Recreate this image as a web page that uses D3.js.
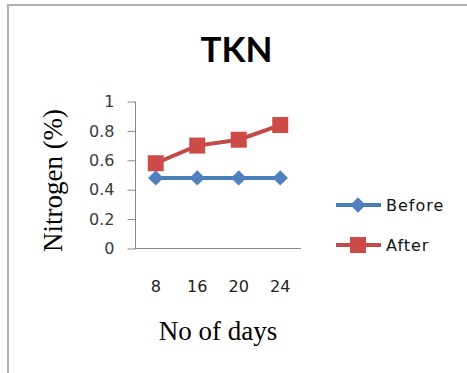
<!DOCTYPE html>
<html>
<head>
<meta charset="utf-8">
<script src="https://cdn.jsdelivr.net/npm/d3@7"></script>
<style>
  html, body { margin: 0; padding: 0; background: #fff; }
  svg { display: block; }
</style>
</head>
<body>
<svg id="chart" width="467" height="373"></svg>
<script>
// TKN nitrogen content before and after, by number of days
const days = ["8", "16", "20", "24"];
const before = [0.48, 0.48, 0.48, 0.48];
const after = [0.58, 0.70, 0.74, 0.84];
const yTicks = [0, 0.2, 0.4, 0.6, 0.8, 1];
const yTickLabels = ["0", "0.2", "0.4", "0.6", "0.8", "1"];
const seriesNames = ["Before", "After"];

const svg = d3.select("#chart");

// outer frame (left and top edges)
svg.append("path")
  .attr("d", "M8,373 L8,5 L467,5")
  .attr("fill", "none")
  .attr("stroke", "#b0b0b0")
  .attr("stroke-width", 2);

// title
svg.append("text")
  .attr("x", 236.5).attr("y", 62)
  .attr("text-anchor", "middle")
  .attr("font-family", "Lato, 'Open Sans', sans-serif")
  .attr("font-weight", "bold")
  .attr("font-size", 35)
  .attr("fill", "#000")
  .text("TKN");

const x = d3.scaleBand().domain(days).range([135, 301]);
const y = d3.scaleLinear().domain([0, 1]).range([248.5, 101.5]);
const axisColor = "#868686";

// y axis
const yAxis = svg.append("g")
  .attr("transform", "translate(135.5,0)")
  .call(d3.axisLeft(y).tickValues(yTicks)
    .tickFormat((d, i) => yTickLabels[i]).tickSize(8).tickPadding(13));
yAxis.select(".domain").attr("stroke", axisColor).attr("d", `M0,${y(1)}V${y(0)}`);
yAxis.selectAll(".tick line").attr("stroke", axisColor);
yAxis.selectAll(".tick text")
  .attr("font-family", "'DejaVu Sans', sans-serif")
  .attr("font-size", 16)
  .attr("fill", "#3a3a3a");

// x axis
const xAxis = svg.append("g")
  .attr("transform", `translate(0,${y(0)})`)
  .call(d3.axisBottom(x).tickSize(0).tickPadding(32));
xAxis.select(".domain").attr("stroke", axisColor).attr("d", "M135,0H301");
xAxis.selectAll(".tick text")
  .attr("font-family", "'DejaVu Sans', sans-serif")
  .attr("font-size", 16)
  .attr("fill", "#222");

// axis titles
svg.append("text")
  .attr("transform", `translate(62,${(113 + 248) / 2}) rotate(-90)`)
  .attr("text-anchor", "middle")
  .attr("font-family", "'Liberation Serif', serif")
  .attr("font-size", 27)
  .attr("fill", "#000")
  .text("Nitrogen (%)");

svg.append("text")
  .attr("x", 218).attr("y", 340)
  .attr("text-anchor", "middle")
  .attr("font-family", "'Liberation Serif', serif")
  .attr("font-size", 27)
  .attr("fill", "#000")
  .text("No of days");

const cx = d => x(d) + x.bandwidth() / 2;
const line = d3.line().x((v, i) => cx(days[i])).y(v => y(v));

const colors = { Before: { line: "#4A7EBB", fill: "#4F81BD" }, After: { line: "#C44A47", fill: "#CC4B47" } };
const diamond = d3.symbol().type(d3.symbolDiamond2).size(150);
const square = d3.symbol().type(d3.symbolSquare).size(256);

function drawSeries(vals, name, sym) {
  svg.append("path")
    .attr("d", line(vals))
    .attr("fill", "none")
    .attr("stroke", colors[name].line)
    .attr("stroke-width", 4);
  svg.append("g").selectAll("path").data(vals).join("path")
    .attr("transform", (v, i) => `translate(${cx(days[i])},${y(v)})`)
    .attr("d", sym)
    .attr("fill", colors[name].fill);
}
drawSeries(before, "Before", diamond);
drawSeries(after, "After", square);

// legend
const legendY = [205, 245];
const legend = svg.append("g");
seriesNames.forEach((name, i) => {
  const g = legend.append("g").attr("transform", `translate(0,${legendY[i]})`);
  g.append("line").attr("x1", 336).attr("x2", 381)
    .attr("stroke", colors[name].line).attr("stroke-width", 4);
  g.append("path").attr("transform", "translate(358,0)")
    .attr("d", i === 0 ? diamond : square)
    .attr("fill", colors[name].fill);
  g.append("text").attr("x", 386).attr("y", 6)
    .attr("font-family", "'DejaVu Sans', sans-serif")
    .attr("font-size", 16)
    .attr("letter-spacing", 1)
    .attr("fill", "#111")
    .text(name);
});
</script>
</body>
</html>
